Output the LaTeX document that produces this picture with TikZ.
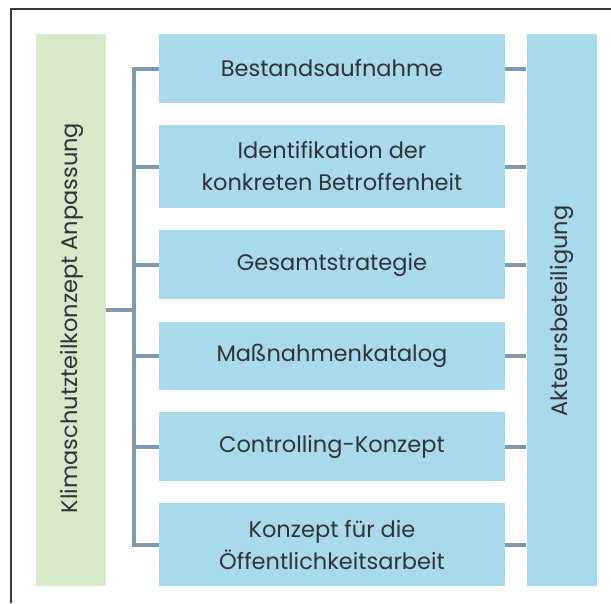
\documentclass[tikz,border=0pt]{standalone}
\usepackage{fontspec}
\setmainfont{Poppins}
\definecolor{boxblue}{HTML}{A8DAEB}
\definecolor{boxgreen}{HTML}{D6E9C9}
\definecolor{linkgray}{HTML}{7E98AE}
\definecolor{textgray}{HTML}{303338}
\definecolor{framegray}{HTML}{3A3A3A}
\tikzset{
  stepbox/.style={fill=boxblue, minimum width=346pt, inner sep=0pt, align=center,
    text=textgray, font=\fontsize{22.5}{32}\selectfont},
  sidebar/.style={minimum width=70pt, minimum height=552pt, inner sep=0pt},
  sidetext/.style={rotate=90, text=textgray, font=\fontsize{22.5}{32}\selectfont},
  link/.style={linkgray, line width=4pt},
}
\begin{document}
\begin{tikzpicture}[x=1pt,y=-1pt]
  \useasboundingbox (0,0) rectangle (611,603);
  \draw[framegray, line width=2pt] (11,603) -- (11,9) -- (611,9);
  % side bars
  \node[sidebar, fill=boxgreen] (klima) at (71,310) {};
  \node[sidetext] (klimatext) at (72,318) {Klimaschutzteilkonzept Anpassung};
  \node[sidebar, fill=boxblue] (akteur) at (561.5,310) {};
  \node[sidetext] (akteurtext) at (562,311) {Akteursbeteiligung};
  % steps
  \node[stepbox, minimum height=69pt] (b1) at (332,68.5) {Bestandsaufnahme};
  \node[stepbox, minimum height=83pt] (b2) at (332,166.5) {Identifikation der\\konkreten Betroffenheit};
  \node[stepbox, minimum height=69pt] (b3) at (332,264.5) {Gesamtstrategie};
  \node[stepbox, minimum height=68pt] (b4) at (332,356) {Maßnahmenkatalog};
  \node[stepbox, minimum height=69pt] (b5) at (332,446.5) {Controlling-Konzept};
  \node[stepbox, minimum height=83pt] (b6) at (332,544.5) {Konzept für die\\Öffentlichkeitsarbeit};
  % connectors
  \coordinate (bus) at (134,310);
  \draw[link] (klima.east) -- (bus);
  \draw[link] (b1.west) -- (b1.west -| bus) -- (b6.west -| bus) -- (b6.west);
  \foreach \i in {2,3,4,5}
    \draw[link] (b\i.west) -- (b\i.west -| bus);
  \foreach \i in {1,...,6}
    \draw[link] (b\i.east) -- (b\i.east -| akteur.west);
\end{tikzpicture}
\end{document}
